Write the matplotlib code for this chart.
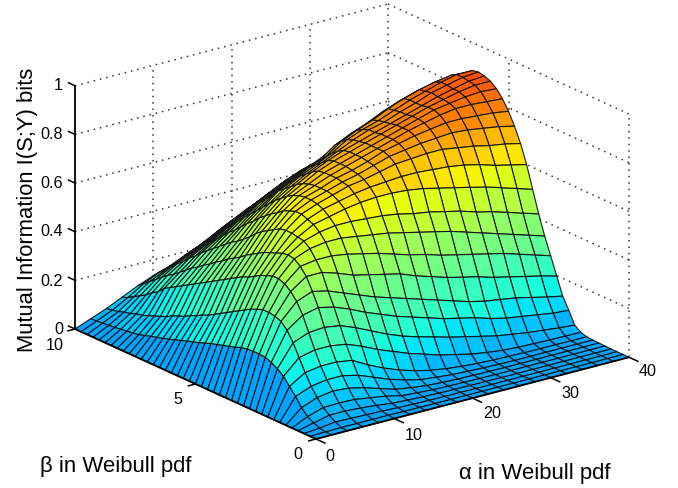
import numpy as np
import matplotlib
matplotlib.use("Agg")
import matplotlib.pyplot as plt
from matplotlib.colors import Normalize
from mpl_toolkits.mplot3d import proj3d

plt.rcParams['font.family'] = ['Liberation Sans', 'DejaVu Sans']

# ---- data ----
alpha_values = [0, 2, 4, 6, 8, 10, 12, 14, 16, 18, 20, 22, 24, 26, 28, 30, 32, 34, 36, 38, 40]
beta_values = [i * 0.25 for i in range(41)]

# mutual information in bits: one row per beta, one entry per alpha = 0, 2, ... 40
mi_rows = [
 [0]*21,
 [0,.001,.002,.002,.002,.002,.001,.001,0,0,0,0,0,0,0,0,0,0,0,0,0],
 [0,.005,.014,.012,.01,.008,.005,.003,.002,.001,.001,0,0,0,0,0,0,0,0,0,0],
 [0,.015,.03,.03,.026,.02,.012,.008,.005,.003,.002,.001,.001,0,0,0,0,0,0,0,0],
 [0,.03,.05,.052,.05,.04,.03,.015,.01,.006,.004,.003,.002,.001,.001,.001,.001,.001,.001,.001,.001],
 [0,.055,.08,.09,.085,.07,.05,.03,.02,.012,.008,.005,.004,.003,.002,.002,.002,.002,.002,.002,.002],
 [0,.09,.115,.125,.125,.11,.085,.06,.04,.025,.018,.012,.009,.006,.004,.003,.003,.003,.003,.003,.003],
 [0,.12,.16,.17,.17,.16,.125,.095,.07,.05,.035,.025,.018,.013,.01,.008,.007,.006,.006,.005,.005],
 [0,.15,.21,.225,.225,.215,.19,.16,.135,.11,.09,.07,.055,.04,.03,.022,.018,.016,.014,.013,.012],
 [0,.17,.26,.285,.29,.28,.255,.225,.195,.17,.15,.133,.115,.10,.085,.07,.06,.05,.043,.036,.03],
 [0,.185,.30,.345,.36,.345,.32,.29,.265,.24,.22,.20,.18,.165,.15,.13,.115,.105,.095,.085,.08],
 [0,.195,.325,.39,.415,.40,.375,.35,.325,.305,.285,.265,.245,.225,.205,.19,.18,.17,.155,.14,.127],
 [0,.197,.335,.42,.465,.465,.445,.42,.405,.39,.375,.35,.33,.31,.295,.28,.26,.245,.23,.215,.198],
 [0,.197,.34,.44,.495,.505,.505,.495,.48,.465,.445,.425,.41,.39,.375,.36,.345,.33,.31,.29,.27],
 [0,.195,.34,.45,.515,.54,.55,.55,.54,.53,.52,.505,.49,.475,.46,.44,.42,.40,.38,.36,.34],
 [0,.19,.33,.45,.52,.56,.58,.59,.59,.585,.58,.57,.555,.545,.53,.515,.495,.48,.46,.44,.42],
 [0,.18,.32,.44,.515,.565,.60,.615,.63,.64,.645,.645,.64,.63,.615,.60,.585,.57,.55,.53,.51],
 [0,.172,.305,.43,.505,.57,.61,.635,.65,.665,.675,.68,.685,.685,.68,.675,.665,.65,.63,.615,.60],
 [0,.165,.29,.415,.495,.57,.62,.645,.665,.685,.695,.71,.725,.73,.735,.735,.725,.715,.70,.69,.675],
 [0,.157,.275,.40,.485,.565,.62,.65,.67,.69,.705,.725,.745,.755,.765,.77,.775,.77,.76,.75,.735],
 [0,.15,.26,.39,.47,.55,.61,.65,.67,.695,.71,.73,.755,.77,.785,.795,.805,.805,.80,.795,.785],
 [0,.14,.245,.375,.455,.535,.60,.645,.67,.695,.715,.735,.755,.775,.795,.81,.825,.835,.835,.83,.825],
 [0,.13,.23,.36,.44,.52,.58,.635,.665,.695,.715,.735,.755,.775,.795,.815,.835,.845,.855,.86,.855],
 [0,.122,.215,.345,.42,.50,.565,.62,.655,.69,.715,.735,.755,.775,.795,.815,.835,.85,.865,.875,.875],
 [0,.115,.205,.33,.405,.475,.545,.60,.64,.675,.705,.73,.75,.77,.79,.81,.83,.85,.865,.88,.885],
 [0,.105,.19,.315,.39,.455,.525,.58,.62,.655,.685,.715,.745,.77,.785,.81,.83,.855,.87,.885,.89],
 [0,.097,.18,.30,.37,.435,.50,.555,.60,.635,.665,.695,.735,.76,.78,.805,.83,.85,.87,.885,.885],
 [0,.088,.165,.285,.355,.42,.48,.53,.58,.61,.645,.67,.715,.745,.77,.80,.825,.845,.86,.87,.865],
 [0,.08,.155,.27,.335,.40,.455,.505,.55,.585,.62,.645,.69,.72,.745,.775,.80,.82,.835,.84,.84],
 [0,.073,.145,.255,.32,.38,.43,.48,.525,.56,.595,.62,.65,.675,.70,.73,.755,.775,.79,.80,.805],
 [0,.066,.13,.24,.30,.36,.41,.455,.50,.535,.57,.595,.61,.63,.655,.685,.71,.73,.745,.76,.77],
 [0,.058,.12,.225,.285,.34,.385,.43,.47,.51,.545,.57,.57,.585,.61,.635,.66,.68,.70,.715,.725],
 [0,.05,.11,.21,.265,.32,.36,.40,.44,.48,.515,.54,.53,.54,.565,.59,.615,.635,.655,.67,.68],
 [0,.046,.10,.195,.245,.295,.335,.375,.41,.45,.485,.51,.49,.495,.52,.545,.57,.59,.61,.625,.635],
 [0,.042,.09,.17,.225,.275,.31,.345,.385,.42,.455,.48,.45,.45,.475,.50,.525,.545,.565,.58,.59],
 [0,.038,.085,.155,.21,.25,.285,.32,.355,.39,.425,.45,.41,.41,.435,.455,.48,.50,.52,.535,.545],
 [0,.035,.075,.135,.19,.23,.26,.29,.325,.36,.395,.425,.375,.37,.395,.415,.44,.46,.48,.495,.505],
 [0,.032,.07,.12,.17,.205,.235,.265,.30,.335,.365,.395,.345,.335,.355,.375,.40,.42,.44,.455,.465],
 [0,.03,.06,.105,.15,.18,.21,.24,.27,.305,.335,.365,.315,.30,.32,.34,.36,.38,.40,.415,.43],
 [0,.027,.055,.09,.13,.16,.18,.21,.24,.275,.305,.335,.29,.27,.29,.31,.33,.35,.37,.385,.40],
 [0,.025,.05,.08,.11,.135,.156,.185,.212,.245,.277,.31,.27,.24,.26,.28,.30,.32,.34,.355,.37],
]

alpha_ticks = [0, 10, 20, 30, 40]
beta_ticks = [0, 5, 10]
z_ticks = [0, 0.2, 0.4, 0.6, 0.8, 1]
z_tick_labels = ['0', '0.2', '0.4', '0.6', '0.8', '1']
alpha_tick_labels = ['0', '10', '20', '30', '40']
beta_tick_labels = ['0', '5', '10']

# ---- figure ----
W, H = 678, 489
fig = plt.figure(figsize=(W / 100, H / 100), dpi=100)
ax = fig.add_axes([0.2, 0.2, 400 / W, 400 / H], projection='3d', proj_type='ortho')
ax.computed_zorder = False
ax.view_init(elev=20.2, azim=-127.1)
ax.set_box_aspect((393, 400, 259.5))
ax.set_xlim(0, 40, view_margin=0)
ax.set_ylim(0, 10, view_margin=0)
ax.set_zlim(0, 1, view_margin=0)
ax.set_xticks(alpha_ticks)
ax.set_yticks(beta_ticks)
ax.set_zticks(z_ticks)
ax.set_axis_off()


def fit_axes():
    """Place the square axes so the box corners land where the reference has them."""
    ax.apply_aspect()
    M = ax.get_proj()
    def uv(a, b, c):
        X, Y, _ = proj3d.proj_transform(a, b, c, M)
        return ax.transAxes.inverted().transform(ax.transData.transform((X, Y)))
    u_o, v_o = uv(0, 0, 0)
    u_a, _ = uv(40, 0, 0)
    u_b, _ = uv(0, 10, 0)
    w = (629 - 75) / (u_a - u_b)
    left = 75 - u_b * w
    bottom = (H - 440) - v_o * w
    ax.set_position([left / W, bottom / H, w / W, w / H])


fit_axes()

for r in mi_rows:
    assert len(r) == len(alpha_values), len(r)
assert len(mi_rows) == len(beta_values)
Z = np.array(mi_rows, dtype=float)
A, B = np.meshgrid(alpha_values, beta_values)

# dotted back walls
dot = dict(color='0.2', lw=1.1, ls=(0, (1, 3.2)), zorder=1)
for z in z_ticks:
    ax.plot([0, 40], [10, 10], [z, z], **dot)
    ax.plot([40, 40], [10, 0], [z, z], **dot)
for a in alpha_ticks[1:]:
    ax.plot([a, a], [10, 10], [0, 1], **dot)
for b in beta_ticks[:-1]:
    ax.plot([40, 40], [b, b], [0, 1], **dot)

# surface: flat facets coloured by their first corner, black mesh
norm = Normalize(vmin=-0.483, vmax=1.183)
cmap = plt.get_cmap('jet', 64)
ax.plot_surface(A, B, Z, rstride=1, cstride=1, facecolors=cmap(norm(Z)), shade=False,
                edgecolor='#151515', linewidth=0.8, antialiased=True, zorder=2)

# solid axes and tick marks
solid = dict(color='k', lw=1.3, zorder=3, solid_capstyle='butt')
tick = dict(color='k', lw=1.1, zorder=3, solid_capstyle='butt')
ax.plot([0, 0], [10, 10], [0, 1], **solid)
ax.plot([0, 40], [0, 0], [0, 0], **solid)
ax.plot([0, 0], [0, 10], [0, 0], **solid)
for z in z_ticks:
    ax.plot([0, 0], [10, 10.3], [z, z], **tick)
for a in alpha_ticks:
    ax.plot([a, a], [0, -0.4], [0, 0], **tick)
for b in beta_ticks:
    ax.plot([0, -1.0], [b, b], [0, 0], **tick)


def label(x, y, s, **kw):
    fig.text(x / W, 1 - y / H, s, **kw)


tfs = 11.6
for s, y in zip(z_tick_labels, [329, 281, 232, 184, 135, 86]):
    label(63, y, s, ha='right', va='center', fontsize=tfs)
for s, (x, y) in zip(alpha_tick_labels, [(330, 457), (414, 436), (492, 414), (570, 394), (648, 372)]):
    label(x, y, s, ha='center', va='center', fontsize=tfs)
for s, (x, y) in zip(beta_tick_labels, [(298, 455), (178, 400), (55, 345)]):
    label(x, y, s, ha='center', va='center', fontsize=tfs)

label(116, 467, 'β in Weibull pdf', ha='center', va='center', fontsize=15.9)
label(535, 474, 'α in Weibull pdf', ha='center', va='center', fontsize=15.9)
label(28, 210, 'Mutual Information I(S;Y) bits', ha='center', va='center', rotation=90, fontsize=15.8)

fig.savefig('out.png', dpi=100)
